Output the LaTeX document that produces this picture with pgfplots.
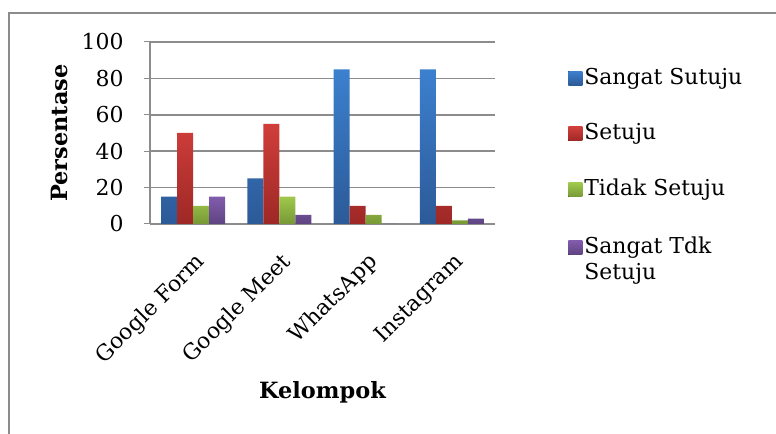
\documentclass[border=0pt]{standalone}
\usepackage{fontspec}
\setmainfont{DejaVu Serif}
\usepackage{pgfplots}
\pgfplotsset{compat=1.18}
\definecolor{gridgray}{RGB}{140,140,140}
\definecolor{bT}{RGB}{60,128,206}
\definecolor{bB}{RGB}{44,90,152}
\definecolor{rT}{RGB}{208,62,58}
\definecolor{rB}{RGB}{158,40,38}
\definecolor{gT}{RGB}{160,200,76}
\definecolor{gB}{RGB}{118,152,54}
\definecolor{pT}{RGB}{130,92,172}
\definecolor{pB}{RGB}{94,68,130}
\newcommand{\numfont}{\fontsize{22}{26}\selectfont}
\newcommand{\lblfont}{\fontsize{22}{26}\selectfont}
\newcommand{\ttlfont}{\fontsize{22.5}{26}\selectfont\bfseries}
\begin{document}
\begin{tikzpicture}[x=1bp,y=1bp]
\useasboundingbox (0,0) rectangle (776,434);
\draw[gridgray, line width=2bp] (8.5,0) -- (8.5,421) -- (776,421);
\begin{axis}[
  at={(150bp,210bp)}, anchor=south west,
  scale only axis, width=345bp, height=182bp,
  ybar=0pt, bar width=16bp,
  xmin=0.5, xmax=4.5, ymin=0, ymax=100,
  xtick={1,2,3,4},
  xticklabels={Google Form, Google Meet, WhatsApp, Instagram},
  ytick={0,20,40,60,80,100},
  ymajorgrids, grid style={gridgray, line width=1.5bp},
  axis x line*=bottom, axis y line*=left,
  axis line style={-, gridgray, line width=1.5bp},
  xtick style={draw=none},
  ytick style={gridgray, line width=1bp},
  tick align=outside, major tick length=6bp,
  yticklabel style={font=\numfont, /pgf/number format/assume math mode=true, xshift=-17bp},
  xticklabel style={font=\lblfont, rotate=45, anchor=north east, xshift=-11bp, yshift=-12bp},
  ylabel={Persentase},
  xlabel={Kelompok},
  every axis y label/.style={at={(axis description cs:-0.261,0.5)}, rotate=90, anchor=center, font=\ttlfont},
  every axis x label/.style={at={(axis description cs:0.5,-0.923)}, anchor=center, font=\ttlfont},
  legend style={at={(axis description cs:1.212,0.87)}, anchor=north west, draw=none, fill=none,
    font=\lblfont, row sep=34bp, inner sep=0pt, cells={anchor=base west}},
  legend image code/.code={\fill[#1] (0bp,-1bp) rectangle (14bp,13bp);},
]
\addplot[draw=none, top color=bT, bottom color=bB] coordinates {(1,15) (2,25) (3,85) (4,85)};
\addplot[draw=none, top color=rT, bottom color=rB] coordinates {(1,50) (2,55) (3,10) (4,10)};
\addplot[draw=none, top color=gT, bottom color=gB] coordinates {(1,10) (2,15) (3,5) (4,2)};
\addplot[draw=none, top color=pT, bottom color=pB] coordinates {(1,15) (2,5) (3,0) (4,3)};
\legend{Sangat Sutuju, Setuju, Tidak Setuju, {\begin{tabular}[t]{@{}l@{}}Sangat Tdk\\Setuju\end{tabular}}}
\end{axis}
\end{tikzpicture}
\end{document}
